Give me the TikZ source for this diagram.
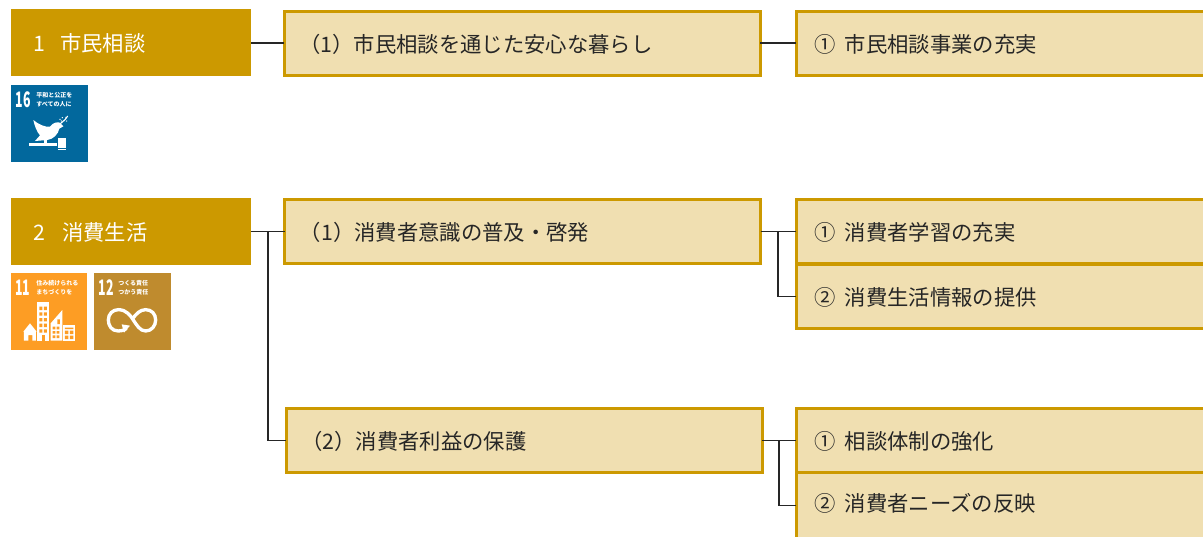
\documentclass[tikz,border=0pt]{standalone}
\usepackage{fontspec}
\setmainfont{Noto Sans CJK JP}
\definecolor{gold}{HTML}{CC9900}
\definecolor{pale}{HTML}{F0DFB1}
\definecolor{sdgblue}{HTML}{02689D}
\definecolor{sdgorange}{HTML}{FD9D24}
\definecolor{sdgbrown}{HTML}{BF8B2E}
\newcommand{\lowered}[1]{\raisebox{-0.75pt}[\height][\depth]{#1}}
\tikzset{
 x=0.75pt,y=-0.75pt,
 head/.style={fill=gold,draw=none,anchor=north west,outer sep=0pt,inner ysep=0pt,minimum height=50.25pt,text=white,font=\fontsize{16}{16}\selectfont,align=left,text width=146.5pt,inner xsep=16.75pt,minimum width=180pt},
 midbox/.style={fill=pale,draw=gold,line width=2.25pt,anchor=north west,outer sep=0pt,inner ysep=0pt,minimum height=48pt,minimum width=357pt,text width=334pt,inner xsep=11.5pt,align=left,text=black!85,font=\fontsize{16}{16}\selectfont},
 rightbox/.style={midbox,minimum width=330pt,text width=303pt,inner xsep=13.5pt},
 lastbox/.style={rightbox,minimum height=0pt,text height=29.5pt,text depth=20pt},
 conn/.style={draw=black!85,line width=1pt},
 icon/.style={anchor=north west,minimum width=57.5pt,minimum height=57.5pt,inner sep=0pt,outer sep=0pt,draw=none},
 num/.style={text=white,font=\bfseries\fontsize{16}{16}\selectfont,inner sep=0pt,xscale=0.58},
 tiny/.style={text=white,font=\bfseries\fontsize{4.5}{7}\selectfont,align=left,inner sep=0pt,anchor=west},
}
\begin{document}
\begin{tikzpicture}
\clip (0,0) rectangle (1203,536);
\node[head] (h1) at (11,9) {\lowered{1\hspace{0.7em}市民相談}};
\node[head] (h2) at (11,198) {\lowered{2\hspace{0.8em}消費生活}};
\node[midbox] (m1) at (284,11) {\lowered{（1）市民相談を通じた安心な暮らし}};
\node[midbox] (m2) at (284.5,199.5) {\lowered{（1）消費者意識の普及・啓発}};
\node[midbox] (m3) at (286,408.5) {\lowered{（2）消費者利益の保護}};
\node[rightbox] (r1) at (796,11) {\lowered{①\hspace{0.45em}市民相談事業の充実}};
\node[rightbox] (r2) at (796,199.5) {\lowered{①\hspace{0.45em}消費者学習の充実}};
\node[rightbox] (r3) at (796,264.5) {\lowered{②\hspace{0.45em}消費生活情報の提供}};
\node[rightbox] (r4) at (796,408.5) {\lowered{①\hspace{0.45em}相談体制の強化}};
\node[lastbox] (r5) at (796,472.5) {②\hspace{0.45em}消費者ニーズの反映};
\draw[conn] (h1.east |- m1.west) -- (m1.west);
\draw[conn] (m1.east) -- (r1.west);
\draw[conn] (h2.east |- m2.west) -- (m2.west);
\coordinate (t2) at (268,231.5);
\draw[conn] (t2) |- (m3.west);
\draw[conn] (m2.east) -- (r2.west);
\coordinate (t3) at (778,231.5);
\draw[conn] (t3) |- (r3.west);
\draw[conn] (m3.east) -- (r4.west);
\coordinate (t4) at (779,440.5);
\draw[conn] (t4) |- (r5.west);
% SDG 16
\node[icon,fill=sdgblue] (s16) at (11,85) {};
\node[num] (n16) at (23.5,100) {16};
\node[tiny] (t16) at (36,100) {平和と公正を\\すべての人に};
\begin{scope}[shift={(0,70)},scale=1/3]
 \fill[white] (100,150) .. controls (115,163) and (135,172) .. (150,170) .. controls (158,158) and (172,155) .. (180,158) -- (190,169) -- (178,176) .. controls (175,192) and (160,208) .. (142,210) -- (105,213) -- (120,196) .. controls (110,185) and (104,168) .. (100,150) -- cycle;
 \draw[white,line width=0.8pt] (180,162) .. controls (188,155) and (198,148) .. (203,138);
 \fill[white] (180,148) circle (2.2) (187,143) circle (2.2) (192,152) circle (2.2) (198,142) circle (2.2) (200,153) circle (2) (184,153) circle (2.2);
 \fill[white] (132,208) rectangle (140,220);
 \fill[white] (88,220) rectangle (172,229);
 \fill[white] (174,205) rectangle (198,233);
 \fill[white] (174,237) rectangle (198,241);
\end{scope}
% SDG 11
\node[icon,fill=sdgorange,minimum width=57pt] (s11) at (11,273) {};
\node[num] (n11) at (23,288) {11};
\node[tiny] (t11) at (36,287.5) {住み続けられる\\まちづくりを};
\begin{scope}[shift={(0,260)},scale=1/3]
 \fill[white] (70,215) -- (90,190) -- (110,215) -- (108,215) -- (108,242) -- (97,242) -- (97,225) -- (85,225) -- (85,242) -- (72,242) -- (72,215) -- cycle;
 \fill[white] (112,127) rectangle (147,242);
 \foreach \r in {140,157,174,191,208} {
  \fill[sdgorange] (118,\r) rectangle (127,\r+10) (132,\r) rectangle (141,\r+10);
 }
 \fill[sdgorange] (125,225) rectangle (134,242);
 \fill[white] (152,190) -- (187,150) -- (187,242) -- (152,242) -- cycle;
 \fill[sdgorange] (158,200) rectangle (166,208) (170,200) rectangle (178,208) (158,213) rectangle (166,221) (170,213) rectangle (178,221) (158,226) rectangle (166,234) (170,226) rectangle (178,234) (172,178) rectangle (180,192);
 \fill[white] (190,195) rectangle (225,242);
 \fill[sdgorange] (195,203) rectangle (220,207) (195,212) rectangle (205,222) (210,212) rectangle (220,222) (195,227) rectangle (205,237) (210,227) rectangle (220,237);
\end{scope}
% SDG 12
\node[icon,fill=sdgbrown] (s12) at (94,273) {};
\node[num] (n12) at (106.5,288) {12};
\node[tiny] (t12) at (118,287.5) {つくる責任\\つかう責任};
\begin{scope}[shift={(0,260)},scale=1/3]
 \draw[white,line width=2.5pt] (380,205) .. controls (370,212) and (362,213) .. (355,213) .. controls (335,213) and (325,197) .. (325,180) .. controls (325,162) and (338,149) .. (355,149) .. controls (380,149) and (392,168) .. (400,180) .. controls (410,195) and (420,213) .. (437,213) .. controls (455,213) and (467,197) .. (467,180) .. controls (467,162) and (455,149) .. (437,149) .. controls (420,149) and (408,162) .. (398,176);
 \fill[white] (365,193) -- (390,197) -- (372,218) -- cycle;
\end{scope}
\end{tikzpicture}
\end{document}
